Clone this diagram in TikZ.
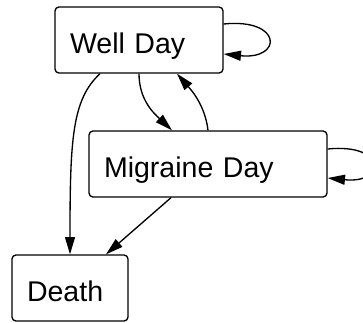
\documentclass[tikz,border=0pt]{standalone}
\usepackage{fontspec}
\setmainfont{Liberation Sans}
\usetikzlibrary{arrows.meta,calc}

\tikzset{
	state/.style={draw, rounded corners=3pt, line width=1pt, inner xsep=11.25pt, inner ysep=0pt,
		minimum height=49.5pt, align=left, text height=20pt, text depth=0.5pt,
		font=\fontsize{21.4}{25}\selectfont},
	trans/.style={line width=1pt, -{Triangle[length=13pt, width=7.5pt]}}
}

\begin{document}
\begin{tikzpicture}[x=0.75pt,y=0.75pt,yscale=-1,xscale=1]
		\clip (0,0) rectangle (363,322);
		
		% states
		\node [state, text width=103.5pt] (well) at (139,40) {Well Day};
		\node [state, text width=156pt] (mig) at (208,164) {Migraine Day};
		\node [state, text width=64.5pt] (death) at (70,288) {Death};
		
		% self loops
		\draw [trans] ($(well.east)+(0,-16)$) .. controls +(59,-6) and +(59,6) .. ($(well.east)+(0,14)$);
		\draw [trans] ($(mig.east)+(0,-15)$) .. controls +(59,-6) and +(59,6) .. ($(mig.east)+(0,14)$);
		
		% transitions
		\draw [trans] ($(well.south)+(-39,0)$) .. controls +(-28,26) and +(0,-115) .. (death.north);
		\draw [trans] (well.south) .. controls +(0,27) and +(-17,-16) .. ($(mig.north)+(-36,0)$);
		\draw [trans] (mig.north) .. controls +(-3,-26) and +(13,15) .. ($(well.south)+(38,0)$);
		\draw [trans] ($(mig.south)+(-37,0)$) -- ($(death.north)+(36,0)$);
		
\end{tikzpicture}
\end{document}
